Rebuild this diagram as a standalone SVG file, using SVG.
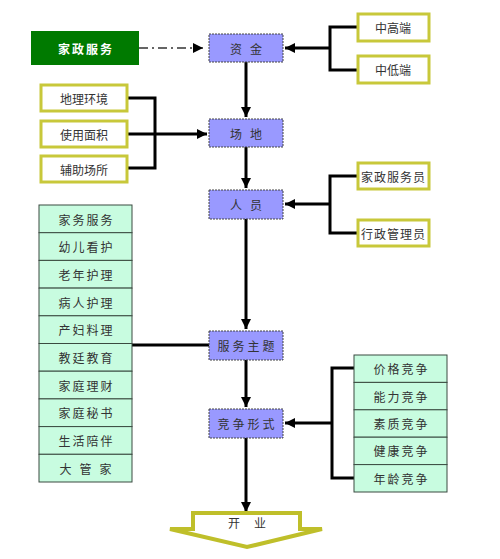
<svg xmlns="http://www.w3.org/2000/svg" width="500" height="559" viewBox="0 0 500 559">
<defs>
<marker id="ah" viewBox="0 0 10 10" refX="10" refY="5" markerWidth="10" markerHeight="10" markerUnits="userSpaceOnUse" orient="auto"><path d="M0,0 L10,5 L0,10 Z" fill="#000"/></marker>
<style>
text{font-family:"Noto Sans CJK SC","Liberation Sans",sans-serif;font-size:12px;text-anchor:middle;dominant-baseline:central;fill:#333}
.blue{fill:#9999FF;stroke:#444;stroke-width:1;stroke-dasharray:2 1}
.yel{fill:#fff;stroke:#C8C83A;stroke-width:3}
.mint{fill:#C8FCE0;stroke:#3a4a40;stroke-width:1}
.ln{fill:none;stroke:#000;stroke-width:3}
.dd{fill:none;stroke:#333;stroke-width:1.5;stroke-dasharray:9 4 2 4}
</style>
</defs>
<rect width="500" height="559" fill="#fff"/>
<g id="connectors">
<path class="dd" d="M139,48 H203" marker-end="url(#ah)"/>
<path class="ln" d="M357,27 H330 V70 H357"/>
<path class="ln" d="M330,48 H285" marker-end="url(#ah)"/>
<path class="ln" d="M246,62 V117" marker-end="url(#ah)"/>
<path class="ln" d="M127,98 H155 V168 H127"/>
<path class="ln" d="M127,134 H207" marker-end="url(#ah)"/>
<path class="ln" d="M246,147 V188" marker-end="url(#ah)"/>
<path class="ln" d="M357,176 H330 V233 H357"/>
<path class="ln" d="M330,204 H285" marker-end="url(#ah)"/>
<path class="ln" d="M246,219 V329" marker-end="url(#ah)"/>
<path class="ln" d="M132,345 H209"/>
<path class="ln" d="M246,360 V407" marker-end="url(#ah)"/>
<path class="ln" d="M354,368 H332 V478 H354"/>
<path class="ln" d="M332,423 H285" marker-end="url(#ah)"/>
<path class="ln" d="M246,438 V512" marker-end="url(#ah)"/>
</g>
<g id="jiazheng"><rect x="31" y="31" width="108" height="34" fill="#007A00"/><text x="86" y="48" style="fill:#fff;font-weight:bold;letter-spacing:2px">家政服务</text></g>
<g id="zijin"><rect class="blue" x="209" y="34" width="74" height="28"/><text x="250" y="48" style="letter-spacing:8px">资金</text></g>
<g id="changdi"><rect class="blue" x="209" y="119" width="74" height="28"/><text x="250" y="133" style="letter-spacing:8px">场地</text></g>
<g id="renyuan"><rect class="blue" x="209" y="190" width="74" height="29"/><text x="250" y="204.5" style="letter-spacing:8px">人员</text></g>
<g id="fuwuzhuti"><rect class="blue" x="209" y="331" width="74" height="29"/><text x="247.5" y="345.5" style="letter-spacing:3px">服务主题</text></g>
<g id="jingzheng"><rect class="blue" x="209" y="409" width="74" height="29"/><text x="247.5" y="423.5" style="letter-spacing:3px">竞争形式</text></g>
<g id="zhonggao"><rect class="yel" x="358" y="14" width="71" height="27"/><text x="393" y="27.5">中高端</text></g>
<g id="zhongdi"><rect class="yel" x="358" y="56" width="71" height="27"/><text x="393" y="69.5">中低端</text></g>
<g id="dili"><rect class="yel" x="41" y="85" width="86" height="26"/><text x="84" y="98">地理环境</text></g>
<g id="shiyong"><rect class="yel" x="41" y="121" width="86" height="26"/><text x="84" y="134">使用面积</text></g>
<g id="fuzhu"><rect class="yel" x="41" y="156" width="86" height="26"/><text x="84" y="169">辅助场所</text></g>
<g id="fuwuyuan"><rect class="yel" x="358" y="163" width="71" height="26"/><text x="393.5" y="176" style="letter-spacing:1px">家政服务员</text></g>
<g id="guanliyuan"><rect class="yel" x="358" y="220" width="71" height="26"/><text x="393.5" y="233" style="letter-spacing:1px">行政管理员</text></g>
<g id="services">
<rect class="mint" x="39" y="205" width="93" height="27.7"/><text x="86.5" y="219" style="letter-spacing:2px">家务服务</text>
<rect class="mint" x="39" y="232.7" width="93" height="27.7"/><text x="86.5" y="246.5" style="letter-spacing:2px">幼儿看护</text>
<rect class="mint" x="39" y="260.4" width="93" height="27.7"/><text x="86.5" y="274.2" style="letter-spacing:2px">老年护理</text>
<rect class="mint" x="39" y="288.1" width="93" height="27.7"/><text x="86.5" y="302" style="letter-spacing:2px">病人护理</text>
<rect class="mint" x="39" y="315.8" width="93" height="27.7"/><text x="86.5" y="329.6" style="letter-spacing:2px">产妇料理</text>
<rect class="mint" x="39" y="343.5" width="93" height="27.7"/><text x="86.5" y="357.3" style="letter-spacing:2px">教廷教育</text>
<rect class="mint" x="39" y="371.2" width="93" height="27.7"/><text x="86.5" y="385" style="letter-spacing:2px">家庭理财</text>
<rect class="mint" x="39" y="398.9" width="93" height="27.7"/><text x="86.5" y="412.7" style="letter-spacing:2px">家庭秘书</text>
<rect class="mint" x="39" y="426.6" width="93" height="27.7"/><text x="86.5" y="440.4" style="letter-spacing:2px">生活陪伴</text>
<rect class="mint" x="39" y="454.3" width="93" height="27.7"/><text x="89.5" y="468.1" style="letter-spacing:8px">大管家</text>
</g>
<g id="competition">
<rect class="mint" x="354" y="355" width="93" height="27.4"/><text x="401.5" y="368.7" style="letter-spacing:2px">价格竞争</text>
<rect class="mint" x="354" y="382.4" width="93" height="27.4"/><text x="401.5" y="396.1" style="letter-spacing:2px">能力竞争</text>
<rect class="mint" x="354" y="409.8" width="93" height="27.4"/><text x="401.5" y="423.5" style="letter-spacing:2px">素质竞争</text>
<rect class="mint" x="354" y="437.2" width="93" height="27.4"/><text x="401.5" y="450.9" style="letter-spacing:2px">健康竞争</text>
<rect class="mint" x="354" y="464.6" width="93" height="27.4"/><text x="401.5" y="478.3" style="letter-spacing:2px">年龄竞争</text>
</g>
<g id="kaiye">
<path d="M193,513 H300 V529 H322 L247,547 L170,529 H193 Z" fill="#fff" stroke="#BFBF2A" stroke-width="4" stroke-linejoin="miter"/>
<text x="254" y="522" style="letter-spacing:14px">开业</text>
</g>
</svg>
